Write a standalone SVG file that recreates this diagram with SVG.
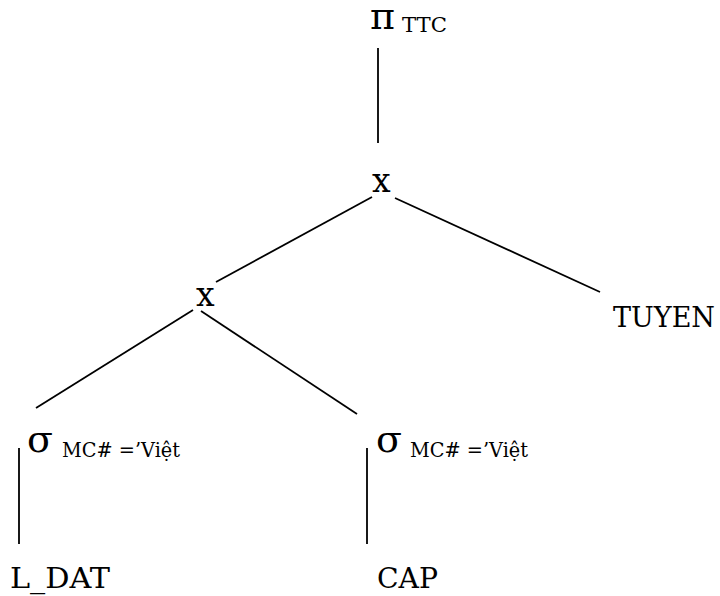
<svg xmlns="http://www.w3.org/2000/svg" width="720" height="596" viewBox="0 0 720 596">
<style>
text{fill:#000;font-family:"DejaVu Serif",serif}
.lbl{font-size:28px}
.sym{font-size:38px}
.sub{font-size:20px}
.op{font-size:33px}
.c line{stroke:#000;stroke-width:1.8;fill:none}
</style>
<rect width="720" height="596" fill="#fff"/>
<g class="c" id="connectors">
<line x1="378" y1="48" x2="378" y2="143"/>
<line x1="372" y1="197" x2="216" y2="282"/>
<line x1="395" y1="198" x2="600" y2="292"/>
<line x1="193" y1="310" x2="36" y2="408"/>
<line x1="201" y1="311" x2="357" y2="414"/>
<line x1="19" y1="448" x2="19" y2="544"/>
<line x1="367" y1="448" x2="367" y2="544"/>
</g>
<g id="proj"><text class="sym" x="370" y="29">π</text><text class="sub" x="402" y="32" textLength="45" lengthAdjust="spacingAndGlyphs">TTC</text></g>
<g id="join1"><text class="op" x="372" y="192">x</text></g>
<g id="join2"><text class="op" x="196" y="306">x</text></g>
<g id="tuyen"><text class="lbl" x="613" y="327" textLength="102" lengthAdjust="spacingAndGlyphs">TUYEN</text></g>
<g id="sel1"><text class="sym" x="27" y="452">σ</text><text class="sub" x="62" y="457" textLength="118" lengthAdjust="spacingAndGlyphs">MC# =’Việt</text></g>
<g id="sel2"><text class="sym" x="376" y="452">σ</text><text class="sub" x="410" y="457" textLength="118" lengthAdjust="spacingAndGlyphs">MC# =’Việt</text></g>
<g id="ldat"><text class="lbl" x="10" y="588" textLength="100" lengthAdjust="spacingAndGlyphs">L_DAT</text></g>
<g id="cap"><text class="lbl" x="377" y="588" textLength="61" lengthAdjust="spacingAndGlyphs">CAP</text></g>
</svg>
